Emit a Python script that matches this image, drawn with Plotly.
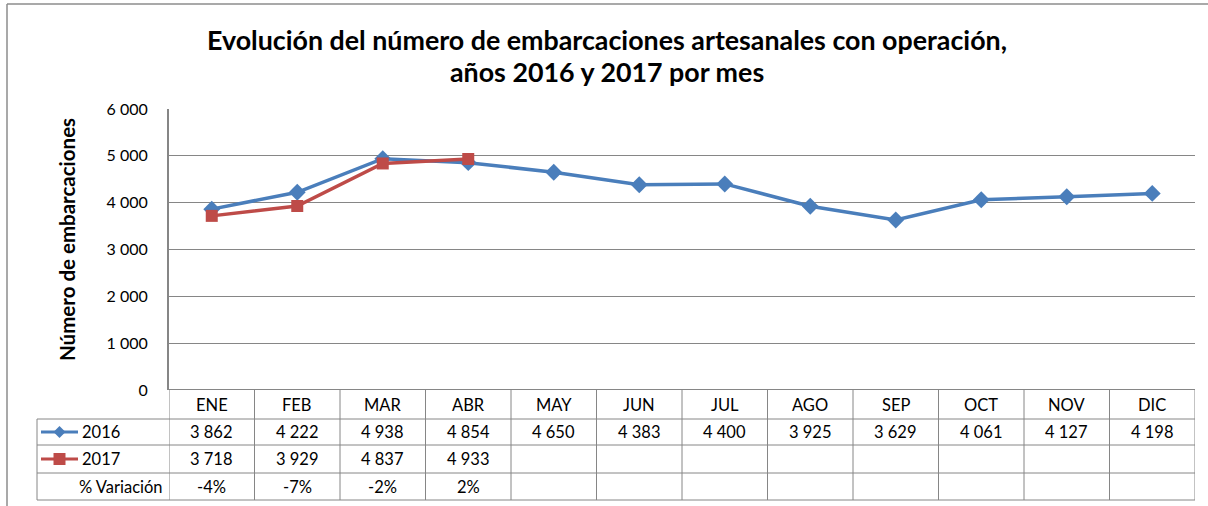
import plotly.graph_objects as go

months = ["ENE", "FEB", "MAR", "ABR", "MAY", "JUN", "JUL", "AGO", "SEP", "OCT", "NOV", "DIC"]
v2016 = [3862, 4222, 4938, 4854, 4650, 4383, 4400, 3925, 3629, 4061, 4127, 4198]
v2017 = [3718, 3929, 4837, 4933]
variation = ["-4%", "-7%", "-2%", "2%"]
y_ticks = [0, 1000, 2000, 3000, 4000, 5000, 6000]

W, H = 1208, 506
BLUE = "#4A7EBB"
RED = "#BE4B48"
GRID = "#868686"
FONT = "Lato"

def py(p):
    return 1 - p / H

def px(p):
    return p / W

fmt = lambda v: f"{v:,}".replace(",", " ")

fig = go.Figure()
idx = list(range(len(months)))
fig.add_trace(go.Scatter(x=idx, y=v2016, mode="lines+markers", name="2016",
                         line=dict(color=BLUE, width=3.5),
                         marker=dict(symbol="diamond", size=13, color=BLUE),
                         showlegend=False))
fig.add_trace(go.Scatter(x=idx[:len(v2017)], y=v2017, mode="lines+markers", name="2017",
                         line=dict(color=RED, width=3.5),
                         marker=dict(symbol="square", size=12, color=RED),
                         showlegend=False))

x_left, x_right = 169, 1195
y_top, y_bot = 109, 390
rows = [390, 419, 445, 473, 500]
centers = [(rows[k] + rows[k + 1]) / 2 for k in range(4)]

shapes = []
# outer border (top & left)
shapes.append(dict(type="line", xref="paper", yref="paper", x0=px(7), x1=1.0, y0=py(4), y1=py(4),
                   line=dict(color="#8C8C8C", width=1.5)))
shapes.append(dict(type="line", xref="paper", yref="paper", x0=px(7), x1=px(7), y0=py(4), y1=0,
                   line=dict(color="#8C8C8C", width=1.5)))
for r in rows[1:]:
    shapes.append(dict(type="line", xref="paper", yref="paper", x0=px(37), x1=px(x_right),
                       y0=py(r), y1=py(r), line=dict(color=GRID, width=1)))
shapes.append(dict(type="line", xref="paper", yref="paper", x0=px(37), x1=px(37),
                   y0=py(rows[1]), y1=py(rows[-1]), line=dict(color=GRID, width=1)))
for i in range(len(months) + 1):
    shapes.append(dict(type="line", xref="x", yref="paper", x0=i - 0.5, x1=i - 0.5,
                       y0=py(rows[0]), y1=py(rows[-1]), line=dict(color=GRID, width=1)))

# legend keys in the table
for cy, col, sym in [(centers[1], BLUE, "diamond"), (centers[2], RED, "square")]:
    shapes.append(dict(type="line", xref="paper", yref="paper", x0=px(41), x1=px(78),
                       y0=py(cy), y1=py(cy), line=dict(color=col, width=3)))
    cx = 59.5
    if sym == "diamond":
        path = (f"M {px(cx - 6)} {py(cy)} L {px(cx)} {py(cy - 6)} L {px(cx + 6)} {py(cy)} "
                f"L {px(cx)} {py(cy + 6)} Z")
    else:
        path = (f"M {px(cx - 6)} {py(cy - 6)} L {px(cx + 6)} {py(cy - 6)} L {px(cx + 6)} {py(cy + 6)} "
                f"L {px(cx - 6)} {py(cy + 6)} Z")
    shapes.append(dict(type="path", xref="paper", yref="paper", path=path,
                       fillcolor=col, line=dict(color=col, width=0)))

annotations = []
tfont = dict(family=FONT, size=16.5, color="#000000")
def ann(x, y, text, xref="x", xanchor="center", font=tfont, **kw):
    annotations.append(dict(x=x, y=y, xref=xref, yref="paper", text=text, xanchor=xanchor,
                            yanchor="middle", showarrow=False, font=font, **kw))
for i, m in enumerate(months):
    ann(i, py(centers[0]), m)
    ann(i, py(centers[1]), fmt(v2016[i]))
for i, v in enumerate(v2017):
    ann(i, py(centers[2]), fmt(v))
for i, v in enumerate(variation):
    ann(i, py(centers[3]), v)
ann(px(80), py(centers[1]), "2016", xref="paper", xanchor="left")
ann(px(80), py(centers[2]), "2017", xref="paper", xanchor="left")
ann(px(165), py(centers[3]), "% Variación", xref="paper", xanchor="right")
tf = dict(family=FONT, size=26.8, color="#000000")
ann(px(607), py(40), "<b>Evolución del número de embarcaciones artesanales con operación,</b>",
    xref="paper", font=tf)
ann(px(607), py(72), "<b>años 2016 y 2017 por mes</b>", xref="paper", font=tf)
ann(px(67), py(240), "<b>Número de embarcaciones</b>", xref="paper",
    font=dict(family=FONT, size=20.5, color="#000000"), textangle=-90)

fig.update_layout(
    template="none",
    width=W, height=H, autosize=False,
    margin=dict(l=0, r=0, t=0, b=0, pad=0),
    paper_bgcolor="white", plot_bgcolor="white",
    separators=", ",
    xaxis=dict(domain=[px(x_left), px(x_right)], range=[-0.5, len(months) - 0.5],
               showticklabels=False, showgrid=False, zeroline=False, ticks="",
               showline=False, automargin=False),
    yaxis=dict(domain=[py(y_bot), py(y_top)], range=[0, 6000], tickvals=y_ticks,
               ticktext=[fmt(v) for v in y_ticks],
               showgrid=True, gridcolor=GRID, gridwidth=1, zeroline=False,
               showline=True, linecolor="#868686", linewidth=2, ticks="", ticklen=0,
               tickfont=dict(family=FONT, size=16, color="#000000"), ticklabelstandoff=16,
               automargin=False),
    shapes=shapes,
    annotations=annotations,
)
fig.add_shape(type="line", xref="x", yref="y", x0=-0.5, x1=len(months) - 0.5, y0=0, y1=0,
              line=dict(color="#868686", width=2))

fig.write_html("out.html", config={"displayModeBar": False},
               post_script="document.body.style.margin='0';document.body.style.overflow='hidden';")
